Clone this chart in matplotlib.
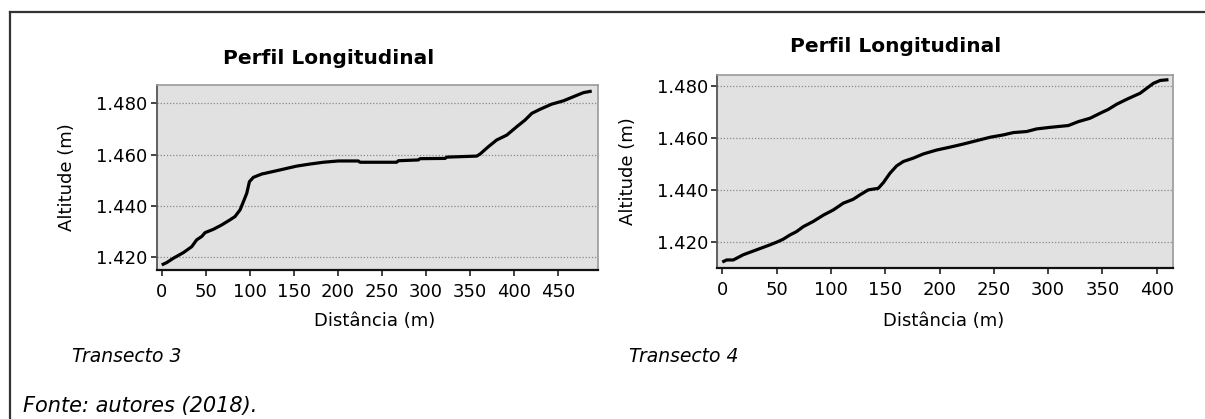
import matplotlib
matplotlib.use('Agg')
import matplotlib.pyplot as plt
from matplotlib.lines import Line2D
from matplotlib.ticker import FuncFormatter

# Transecto 3 (distância em m, altitude em m)
dist3 = [0, 5.7, 13.2, 24.6, 34, 39.7, 45.4, 49.2, 58.6, 68, 77.5, 83.2, 88.9, 92.7,
         96.5, 99.5, 104, 113.5, 130.5, 141.8, 153.2, 168.3, 183.4, 200.4, 223.1, 225,
         266.6, 268.5, 291.2, 293.1, 321.5, 323.4, 357.4, 361.2, 370.7, 380.1, 391.5,
         402.9, 412.3, 419.9, 429.3, 442.5, 455.8, 467.1, 478.5, 487.9]
alt3 = [1416.9, 1417.8, 1419.5, 1421.7, 1424.0, 1426.7, 1428.0, 1429.5, 1430.8, 1432.5,
        1434.5, 1435.8, 1438.4, 1441.6, 1444.9, 1449.4, 1451.1, 1452.4, 1453.7, 1454.6,
        1455.5, 1456.3, 1457.0, 1457.5, 1457.5, 1457.0, 1457.0, 1457.6, 1457.9, 1458.4,
        1458.5, 1459.0, 1459.4, 1460.2, 1463.1, 1465.7, 1467.6, 1470.9, 1473.5, 1476.1,
        1477.7, 1479.7, 1481.0, 1482.6, 1484.2, 1484.8]

# Transecto 4
dist4 = [0, 4, 10.1, 19.3, 31.6, 43.9, 51.6, 56.2, 62.3, 68.4, 74.6, 83.8, 93, 102.2,
         111.4, 120.6, 126.8, 134.4, 143.6, 148.3, 154.4, 160.5, 166.7, 175.9, 185.1,
         197.4, 209.6, 221.9, 234.2, 246.5, 258.7, 268, 280.2, 289.4, 301.7, 318.6,
         327.8, 338.6, 347.8, 355.4, 363.2, 373, 384.7, 396.9, 403.1, 410.8]
alt4 = [1412.4, 1413.2, 1413.2, 1415.2, 1417.1, 1419.0, 1420.3, 1421.2, 1422.8, 1424.1,
        1426.0, 1428.0, 1430.4, 1432.4, 1435.0, 1436.5, 1438.2, 1440.1, 1440.7, 1442.9,
        1446.5, 1449.3, 1451.0, 1452.3, 1453.9, 1455.4, 1456.5, 1457.7, 1459.0, 1460.3,
        1461.2, 1462.1, 1462.5, 1463.5, 1464.1, 1464.8, 1466.3, 1467.6, 1469.5, 1471.0,
        1473.0, 1475.0, 1477.2, 1481.0, 1482.1, 1482.4]

xticks3 = [0, 50, 100, 150, 200, 250, 300, 350, 400, 450]
xticks4 = [0, 50, 100, 150, 200, 250, 300, 350, 400]
yticks = [1420, 1440, 1460, 1480]

fig = plt.figure(figsize=(12.05, 4.19), dpi=100)

# moldura da figura (linha superior e esquerda)
fig.add_artist(Line2D([10 / 1205, 1], [1 - 12 / 419, 1 - 12 / 419], color='#333333', lw=1.6))
fig.add_artist(Line2D([10 / 1205, 10 / 1205], [0, 1 - 12 / 419], color='#333333', lw=1.6))


def perfil(rect, dist, alt, xticks, xlim, ylim):
    ax = fig.add_axes(rect)
    ax.set_facecolor('#e1e1e1')
    ax.plot(dist, alt, color='black', lw=2.3, solid_capstyle='butt')
    ax.set_xlim(*xlim)
    ax.set_ylim(*ylim)
    ax.set_xticks(xticks)
    ax.set_yticks(yticks)
    ax.yaxis.set_major_formatter(FuncFormatter(lambda v, p: f'{v / 1000:.3f}'))
    ax.grid(axis='y', color='#8a8a8a', ls=(0, (1, 1.5)), lw=0.9)
    ax.set_axisbelow(True)
    for s in ['top', 'right']:
        ax.spines[s].set_color('#9a9a9a')
        ax.spines[s].set_linewidth(1.2)
    ax.spines['left'].set_color('#555555')
    ax.spines['bottom'].set_color('#111111')
    ax.spines['left'].set_linewidth(1.3)
    ax.spines['bottom'].set_linewidth(1.6)
    ax.tick_params(axis='both', length=4.5, width=1.2, color='#222222', labelsize=13, pad=2)
    ax.tick_params(axis='x', pad=5)
    return ax


ax1 = perfil([156.7 / 1205, 1 - 270 / 419, 441 / 1205, 185.3 / 419],
             dist3, alt3, xticks3, (-5.7, 494.7), (1414.9, 1487.3))
ax2 = perfil([717.3 / 1205, 1 - 268.3 / 419, 455.4 / 1205, 193.3 / 419],
             dist4, alt4, xticks4, (-4.6, 414.7), (1410.0, 1484.2))

# títulos e rótulos
fig.text(328.5 / 1205, 1 - 58 / 419, 'Perfil Longitudinal', ha='center', va='center',
         fontsize=14.5, fontweight='bold')
fig.text(896 / 1205, 1 - 47 / 419, 'Perfil Longitudinal', ha='center', va='center',
         fontsize=14.5, fontweight='bold')
fig.text(375 / 1205, 1 - 321 / 419, 'Distância (m)', ha='center', va='center', fontsize=13)
fig.text(944 / 1205, 1 - 321 / 419, 'Distância (m)', ha='center', va='center', fontsize=13)
fig.text(67 / 1205, 1 - 177 / 419, 'Altitude (m)', ha='center', va='center', fontsize=13,
         rotation=90)
fig.text(628 / 1205, 1 - 171 / 419, 'Altitude (m)', ha='center', va='center', fontsize=13,
         rotation=90)
fig.text(72 / 1205, 1 - 356 / 419, 'Transecto 3', ha='left', va='center', fontsize=13.5,
         style='italic')
fig.text(629 / 1205, 1 - 356 / 419, 'Transecto 4', ha='left', va='center', fontsize=13.5,
         style='italic')
fig.text(23 / 1205, 1 - 406 / 419, 'Fonte: autores (2018).', ha='left', va='center',
         fontsize=15, style='italic')

fig.savefig('out.png', dpi=100)
